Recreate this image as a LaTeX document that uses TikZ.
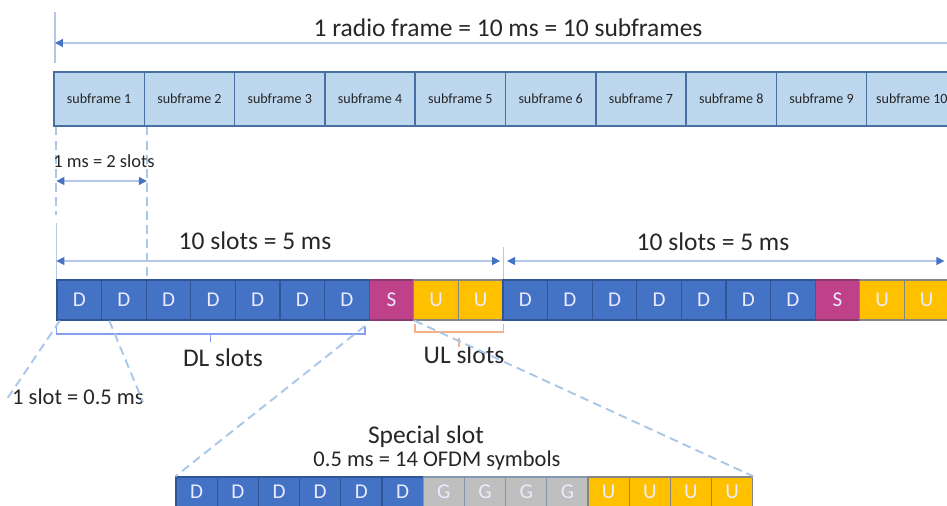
\documentclass[tikz,border=0pt]{standalone}
\usepackage{fontspec}
\setmainfont{Carlito}
\usetikzlibrary{arrows.meta}
\definecolor{sffill}{HTML}{BDD7EE}
\definecolor{sfline}{HTML}{4A6FA5}
\definecolor{fillD}{HTML}{4472C4}
\definecolor{lineD}{HTML}{2F5597}
\definecolor{fillS}{HTML}{BE4189}
\definecolor{lineS}{HTML}{8E3A6E}
\definecolor{fillU}{HTML}{FFC000}
\definecolor{lineU}{HTML}{858585}
\definecolor{fillG}{HTML}{BFBFBF}
\definecolor{lineG}{HTML}{8497B0}
\definecolor{dimline}{HTML}{B4C7E7}
\definecolor{tipblue}{HTML}{4472C4}
\definecolor{guide}{HTML}{A9C8E8}
\definecolor{ulbrace}{HTML}{F4B183}
\definecolor{txt}{HTML}{262626}

\begin{document}
\begin{tikzpicture}[x=0.02cm,y=-0.02cm,
    subframe/.style={draw=sfline,fill=sffill,line width=0.8pt,inner sep=0pt,
      minimum width=1.806cm,minimum height=1.08cm,text=txt,
      font=\fontsize{8}{9}\selectfont},
    slot/.style={line width=0.7pt,inner sep=0pt,minimum width=0.892cm,
      minimum height=0.8cm,text=white!92!blue,font=\fontsize{12}{14}\selectfont},
    symbol/.style={slot,minimum width=0.824cm,minimum height=0.6cm},
    cell/.style={fill=fill#1,draw=line#1},
    dim/.style={draw=dimline,line width=0.7pt,
      >={Triangle[length=4.5pt,width=4.5pt,color=tipblue]}},
    tickline/.style={draw=dimline,line width=0.7pt},
    guideline/.style={draw=guide,line width=1.1pt,dash pattern=on 5pt off 3pt},
    big/.style={text=txt,font=\fontsize{14.5}{16}\selectfont},
    mid/.style={text=txt,font=\fontsize{12.8}{14}\selectfont},
    small/.style={text=txt,font=\fontsize{10.5}{12}\selectfont}]

    \clip (0,0) rectangle (947,506);

    % Subframes of one radio frame
    \def\sfw{90.3}
    \foreach \i in {1,...,10}
        \node[subframe] (sf\i) at ({54+\sfw*(\i-0.5)},99) {subframe \i};

    % Slots
    \def\slw{44.6}
    \foreach \t [count=\i] in {D,D,D,D,D,D,D,S,U,U,D,D,D,D,D,D,D,S,U,U}
        \node[slot,cell=\t] (s\i) at ({57+\slw*(\i-0.5)},300) {\t};

    % OFDM symbols of the special slot
    \def\syw{41.2}
    \foreach \t [count=\i] in {D,D,D,D,D,D,G,G,G,G,U,U,U,U}
        \node[symbol,cell=\t] (o\i) at ({176+\syw*(\i-0.5)},492) {\t};

    % Radio frame
    \coordinate (rfL) at (55,43);
    \coordinate (rfR) at (960,43);
    \draw[tickline] (55,12) -- (55,63);
    \draw[dim,<-] (rfL) -- (rfR);
    \node[big] (rf) at (508,28) {1 radio frame = 10 ms = 10 subframes};

    % 1 ms = 2 slots
    \draw[guideline] (s1.north west |- sf1.south) -- (s1.north west |- 0,215);
    \draw[guideline] (s2.north east |- sf1.south) -- (s2.north east);
    \coordinate (msL) at (s1.north west |- 0,181);
    \coordinate (msR) at (s2.north east |- 0,181);
    \draw[dim,<->] (msL) -- (msR);
    \node[small] (ms) at (104,161) {1 ms = 2 slots};

    % 10 slots = 5 ms, twice
    \draw[tickline] (s1.north west |- 0,223) -- (s1.north west);
    \draw[tickline] (s10.north east |- 0,247) -- (s10.north east);
    \coordinate (hfL) at (s1.north west |- 0,261);
    \coordinate (hfM) at (s10.north east |- 0,261);
    \coordinate (hfR) at (s20.north east |- 0,261);
    \draw[dim,<->] (hfL) -- ([xshift=-2pt]hfM);
    \draw[dim,<->] ([xshift=2pt]hfM) -- ([xshift=-3pt]hfR);
    \node[big] (hf1) at (255,241) {10 slots = 5 ms};
    \node[big] (hf2) at (713,242) {10 slots = 5 ms};

    % DL and UL slots
    \coordinate (dlL) at ([yshift=-3pt]s1.south west);
    \coordinate (dlR) at ([xshift=-2pt,yshift=-3pt]s8.south west);
    \draw[draw=guide!80!blue,line width=0.8pt]
        (dlL) -- ++(0,8) -| (dlR) (dlL |- 0,333) ++(154,0) -- ++(0,9);
    \node[big] (dl) at (223,358) {DL slots};
    \draw[draw=ulbrace,line width=0.8pt]
        ([xshift=1pt,yshift=-2pt]s9.south west) -- ++(0,8) -| ([yshift=-2pt]s10.south east)
        ([yshift=-10pt]s9.south east) -- ++(0,9);
    \node[big] (ul) at (464,355) {UL slots};

    % One slot
    \node[mid] (one) at (78,397) {1 slot = 0.5 ms};
    \coordinate (oneL) at (5,402);
    \coordinate (oneR) at (143,402);
    \draw[guideline] ([xshift=2pt]s1.south west) -- (oneL);
    \draw[guideline] ([xshift=4pt]s1.south east) -- (oneR);

    % Special slot
    \node[big] (sp) at (426,437) {Special slot};
    \node[mid] (spd) at (437,461) {0.5 ms = 14 OFDM symbols};
    \draw[guideline] (dlR) -- (o1.north west);
    \draw[guideline] (s8.south east) -- (o14.north east);
\end{tikzpicture}
\end{document}
